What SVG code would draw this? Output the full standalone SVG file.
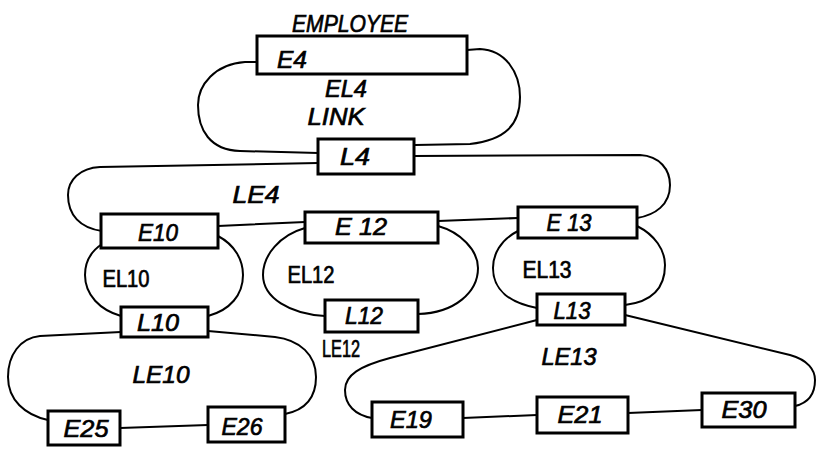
<svg xmlns="http://www.w3.org/2000/svg" width="818" height="449" viewBox="0 0 818 449">
  <style>
    .box { fill: #fff; stroke: #000; stroke-width: 3; }
    .wire { fill: none; stroke: #000; stroke-width: 2; stroke-linecap: round; stroke-linejoin: round; }
    text { font-family: "Liberation Sans", Arial, sans-serif; font-style: italic; fill: #000; stroke: #000; stroke-width: 0.7; text-anchor: middle; }
    .name { font-size: 24px; }
    .lbl { font-size: 24px; }
    .small { font-size: 23px; font-style: normal; }
  </style>
  <rect width="818" height="449" fill="#fff"/>

  <!-- ring connectors -->
  <g id="connectors" class="wire">
    <!-- EL4 -->
    <path d="M257,62 L245,62 C215,64 198,85 198,105 C198,130 210,150 240,151 L318,153"/>
    <path d="M467,50 L480,49 C505,50 520,72 520,97 C520,125 505,140 470,144 L415,145"/>
    <!-- LE4 -->
    <path d="M318,163 L100,167 C80,168 68,180 68,195 C68,215 80,228 102,231"/>
    <path d="M413,156 L640,155 C660,156 670,170 670,185 C670,205 655,215 637,218"/>
    <path d="M218,226 L305,222"/>
    <path d="M438,221 L518,218"/>
    <!-- EL10 -->
    <path d="M102,244 C90,252 85,263 85,275 C85,295 100,310 121,316"/>
    <path d="M218,236 C235,245 243,260 243,275 C243,295 230,310 208,316"/>
    <!-- EL12 -->
    <path d="M305,228 C280,235 263,255 263,275 C263,298 290,314 325,316"/>
    <path d="M438,226 C460,232 478,250 478,268 C478,292 455,313 418,314"/>
    <!-- EL13 -->
    <path d="M518,231 C500,240 493,255 493,268 C493,290 510,303 537,308"/>
    <path d="M637,226 C655,235 665,250 665,265 C665,290 650,302 625,305"/>
    <!-- LE10 -->
    <path d="M121,332 L40,336 C20,338 8,355 8,377 C8,400 25,415 48,420"/>
    <path d="M208,331 L275,337 C300,340 316,355 316,377 C316,398 305,410 285,414"/>
    <path d="M120,428 L208,425"/>
    <!-- LE13 -->
    <path d="M537,320 L390,358 C360,366 345,375 345,390 C345,405 355,415 372,418"/>
    <path d="M625,315 L790,355 C808,360 815,370 815,380 C815,395 808,403 795,406"/>
    <path d="M463,418 L537,415"/>
    <path d="M628,413 L702,410"/>
  </g>

  <!-- ring labels (condensed to the lettering widths) -->
  <g id="labels">
    <text class="lbl" x="350" y="32" font-size="25" textLength="116" lengthAdjust="spacingAndGlyphs">EMPLOYEE</text>
    <text class="lbl" x="346" y="97" font-size="23" textLength="42" lengthAdjust="spacingAndGlyphs">EL4</text>
    <text class="lbl" x="336" y="125" font-size="23" textLength="57" lengthAdjust="spacingAndGlyphs">LINK</text>
    <text class="lbl" x="256" y="203" font-size="28" textLength="47" lengthAdjust="spacingAndGlyphs">LE4</text>
    <text class="small" x="126" y="287" textLength="47" lengthAdjust="spacingAndGlyphs">EL10</text>
    <text class="small" x="311" y="283" textLength="47" lengthAdjust="spacingAndGlyphs">EL12</text>
    <text class="small" x="547" y="278" textLength="49" lengthAdjust="spacingAndGlyphs">EL13</text>
    <text class="small" x="341" y="357" font-size="18" textLength="38" lengthAdjust="spacingAndGlyphs">LE12</text>
    <text class="lbl" x="161" y="383" font-size="28" textLength="57" lengthAdjust="spacingAndGlyphs">LE10</text>
    <text class="lbl" x="569" y="365" textLength="55" lengthAdjust="spacingAndGlyphs">LE13</text>
  </g>

  <!-- record nodes -->
  <g id="E4"><rect class="box" x="257" y="36" width="210" height="38"/><text class="name" x="292" y="68" font-size="25" textLength="30" lengthAdjust="spacingAndGlyphs">E4</text></g>
  <g id="L4"><rect class="box" x="318" y="139" width="96" height="35"/><text class="name" x="355" y="165" textLength="30" lengthAdjust="spacingAndGlyphs">L4</text></g>
  <g id="E10"><rect class="box" x="101" y="214" width="117" height="34"/><text class="name" x="158" y="241" textLength="40" lengthAdjust="spacingAndGlyphs">E10</text></g>
  <g id="E12"><rect class="box" x="305" y="212" width="133" height="31"/><text class="name" x="361" y="235" textLength="52" lengthAdjust="spacingAndGlyphs">E 12</text></g>
  <g id="E13"><rect class="box" x="518" y="207" width="119" height="31"/><text class="name" x="569" y="231" textLength="45" lengthAdjust="spacingAndGlyphs">E 13</text></g>
  <g id="L10"><rect class="box" x="121" y="307" width="87" height="30"/><text class="name" x="158" y="331" textLength="42" lengthAdjust="spacingAndGlyphs">L10</text></g>
  <g id="L12"><rect class="box" x="325" y="300" width="93" height="32"/><text class="name" x="364" y="324" textLength="38" lengthAdjust="spacingAndGlyphs">L12</text></g>
  <g id="L13"><rect class="box" x="537" y="294" width="88" height="31"/><text class="name" x="572" y="319" textLength="37" lengthAdjust="spacingAndGlyphs">L13</text></g>
  <g id="E25"><rect class="box" x="48" y="411" width="72" height="34"/><text class="name" x="86" y="437" textLength="45" lengthAdjust="spacingAndGlyphs">E25</text></g>
  <g id="E26"><rect class="box" x="208" y="407" width="77" height="35"/><text class="name" x="242" y="435" textLength="41" lengthAdjust="spacingAndGlyphs">E26</text></g>
  <g id="E19"><rect class="box" x="372" y="402" width="91" height="35"/><text class="name" x="411" y="428" textLength="42" lengthAdjust="spacingAndGlyphs">E19</text></g>
  <g id="E21"><rect class="box" x="537" y="397" width="91" height="36"/><text class="name" x="580" y="423" textLength="45" lengthAdjust="spacingAndGlyphs">E21</text></g>
  <g id="E30"><rect class="box" x="702" y="393" width="93" height="34"/><text class="name" x="744" y="418" textLength="45" lengthAdjust="spacingAndGlyphs">E30</text></g>
</svg>
